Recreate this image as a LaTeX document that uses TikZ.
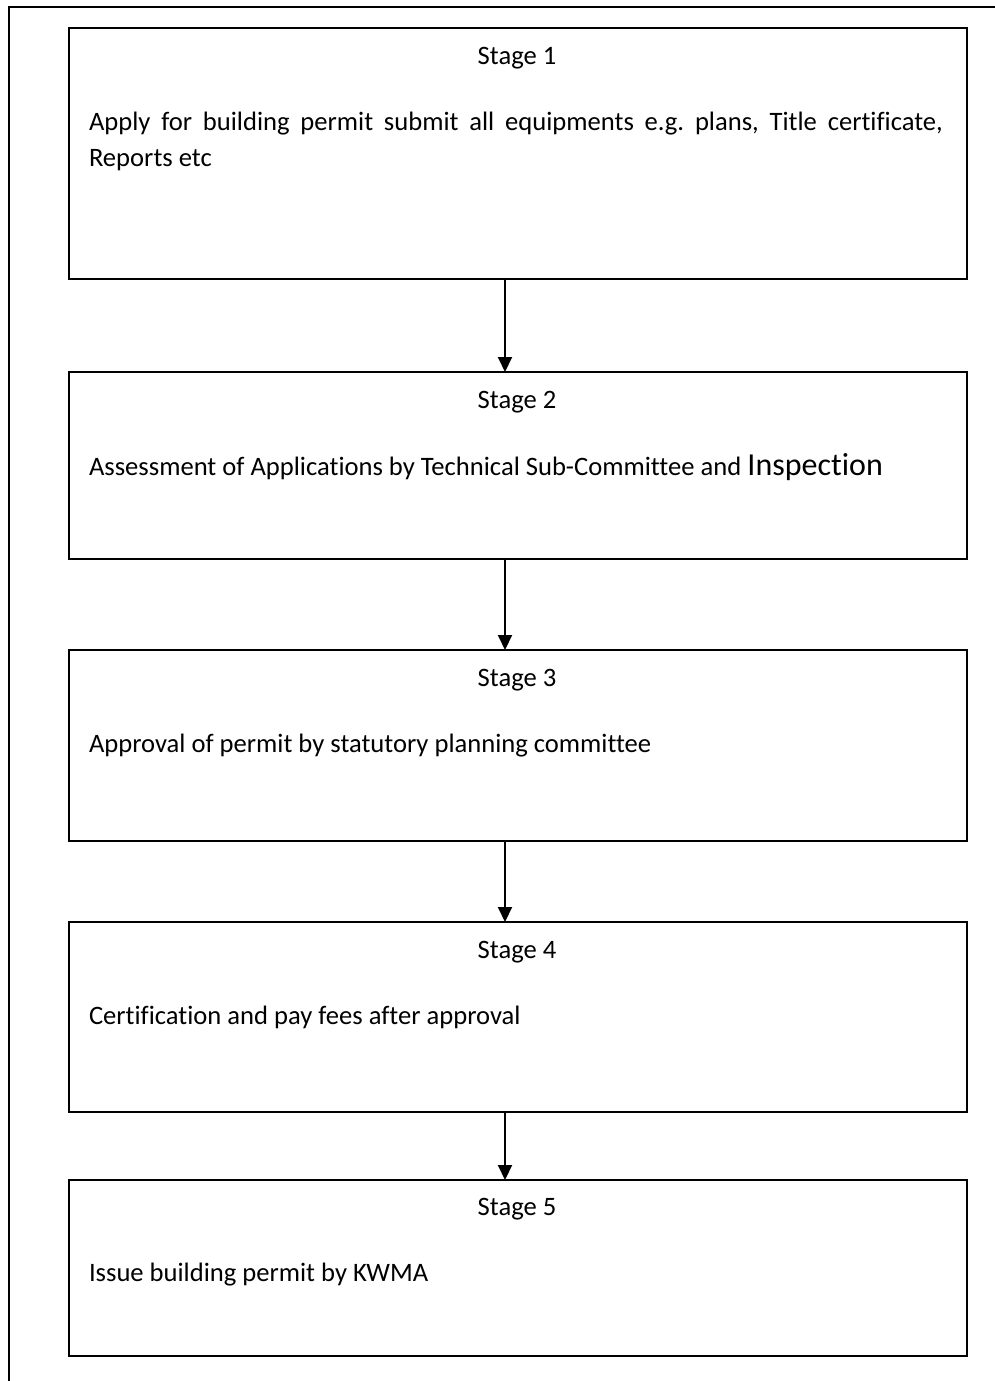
\documentclass[tikz,border=0pt]{standalone}
\usepackage{fontspec}
\setmainfont[Ligatures=NoCommon]{Carlito}
\usetikzlibrary{arrows.meta}
\frenchspacing

\begin{document}
\begin{tikzpicture}[x=0.5pt,y=-0.5pt,
  every node/.style={inner sep=0pt, outer sep=0pt},
  stagebox/.style={draw=black, line width=1pt, anchor=north west, minimum width=449pt},
  stagelabel/.style={anchor=base, font=\fontsize{13.3}{19.5}\selectfont},
  bodytext/.style={anchor=base west, font=\fontsize{13.3}{19.5}\selectfont},
  flowarrow/.style={line width=1pt, -{Triangle[width=7pt,length=7.5pt]}},
  frameline/.style={line width=1pt}]
  \useasboundingbox (0,0) rectangle (995,1381);

  % page frame (left and top edges)
  \coordinate (fbl) at (9,1381);
  \coordinate (ftl) at (9,7);
  \coordinate (ftr) at (995,7);
  \draw[frameline] (fbl) -- (ftl) -- (ftr);

  % stage boxes
  \node[stagebox, minimum height=125.5pt] (b1) at (69,28)   {};
  \node[stagebox, minimum height=93.5pt]  (b2) at (69,372)  {};
  \node[stagebox, minimum height=95.5pt]  (b3) at (69,650)  {};
  \node[stagebox, minimum height=95pt]    (b4) at (69,922)  {};
  \node[stagebox, minimum height=88pt]    (b5) at (69,1180) {};

  % stage titles
  \node[stagelabel] (t1) at (517,64)   {Stage 1};
  \node[stagelabel] (t2) at (517,408)  {Stage 2};
  \node[stagelabel] (t3) at (517,686)  {Stage 3};
  \node[stagelabel] (t4) at (517,958)  {Stage 4};
  \node[stagelabel] (t5) at (517,1215) {Stage 5};

  % stage descriptions
  \node[bodytext] (d1a) at (89,130) {\makebox[427pt][s]{Apply for building permit submit all equipments e.g. plans, Title certificate,}};
  \node[bodytext] (d1b) at (89,166) {Reports etc};
  \node[bodytext] (d2) at (89,475) {Assessment of Applications by Technical Sub-Committee and {\fontsize{16}{19.5}\selectfont Inspection}};
  \node[bodytext] (d3) at (89,752) {Approval of permit by statutory planning committee};
  \node[bodytext] (d4) at (89,1024) {Certification and pay fees after approval};
  \node[bodytext] (d5) at (89,1281) {Issue building permit by KWMA};

  % connectors between stages
  \coordinate (ax) at (505,0);
  \draw[flowarrow] (b1.south -| ax) -- (b2.north -| ax);
  \draw[flowarrow] (b2.south -| ax) -- (b3.north -| ax);
  \draw[flowarrow] (b3.south -| ax) -- (b4.north -| ax);
  \draw[flowarrow] (b4.south -| ax) -- (b5.north -| ax);
\end{tikzpicture}
\end{document}
